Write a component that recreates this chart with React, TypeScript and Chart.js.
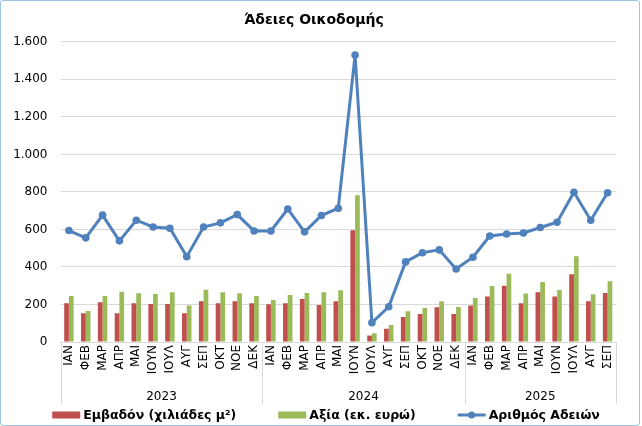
import React, { useEffect, useRef } from "react";
import { Chart, registerables } from "chart.js";

Chart.register(...registerables);

const months = ["ΙΑΝ", "ΦΕΒ", "ΜΑΡ", "ΑΠΡ", "ΜΑΙ", "ΙΟΥΝ", "ΙΟΥΛ", "ΑΥΓ", "ΣΕΠ", "ΟΚΤ", "ΝΟΕ", "ΔΕΚ"];
const years = ["2023", "2024", "2025"];
const monthsPerYear = [12, 12, 9];
const categories = [...months, ...months, ...months.slice(0, 9)];

const areaValues = [206, 153, 212, 153, 206, 203, 203, 153, 217, 206, 217, 206, 201, 206, 229, 197, 217, 596, 34, 71, 133, 149, 185, 149, 194, 242, 300, 206, 265, 242, 361, 217, 261];
const valueValues = [245, 165, 245, 268, 260, 256, 265, 194, 279, 265, 260, 245, 224, 251, 261, 265, 276, 782, 46, 91, 164, 181, 217, 187, 235, 299, 364, 258, 320, 277, 457, 254, 324];
const permitValues = [594, 555, 676, 539, 649, 613, 606, 455, 613, 635, 679, 592, 592, 709, 587, 674, 713, 1529, 103, 188, 427, 476, 491, 389, 452, 565, 576, 581, 610, 638, 798, 649, 795];

const seriesLabels = ["Εμβαδόν (χιλιάδες μ²)", "Αξία (εκ. ευρώ)", "Αριθμός Αδειών"];
const titleText = "Άδειες Οικοδομής";

const RED = "#C0504D";
const GREEN = "#9BBB59";
const BLUE = "#4F81BD";
const GRID = "#D9D9D9";
const FONT = "'DejaVu Sans', sans-serif";

const fmt = (v: number) =>
  v >= 1000 ? Math.floor(v / 1000) + "." + String(v % 1000).padStart(3, "0") : String(v);

const yearPlugin = {
  id: "yearRow",
  afterDraw(chart: any) {
    const x = chart.scales.x;
    const ctx = chart.ctx;
    const half = (x.getPixelForValue(1) - x.getPixelForValue(0)) / 2;
    ctx.save();
    ctx.strokeStyle = GRID;
    ctx.lineWidth = 1;
    ctx.fillStyle = "#000";
    ctx.font = "12px " + FONT;
    ctx.textAlign = "center";
    ctx.textBaseline = "middle";
    let start = 0;
    const bounds: number[] = [start];
    monthsPerYear.forEach((n) => {
      start += n;
      bounds.push(start);
    });
    bounds.forEach((b) => {
      const px = Math.round(x.getPixelForValue(b) - half) + 0.5;
      ctx.beginPath();
      ctx.moveTo(px, x.top);
      ctx.lineTo(px, x.bottom);
      ctx.stroke();
    });
    years.forEach((yr, i) => {
      const a = x.getPixelForValue(bounds[i]) - half;
      const b = x.getPixelForValue(bounds[i + 1]) - half;
      ctx.fillText(yr, (a + b) / 2, x.bottom - 7);
    });
    ctx.restore();
  },
};

const legendPlugin = {
  id: "customLegend",
  afterDraw(chart: any) {
    const ctx = chart.ctx;
    ctx.save();
    ctx.font = "bold 12.5px " + FONT;
    ctx.textBaseline = "middle";
    ctx.textAlign = "left";
    const sw = 28;
    const g1 = 3;
    const gap = 42;
    const items = chart.data.datasets.map((ds: any) => ({
      label: ds.label,
      w: ctx.measureText(ds.label).width,
      line: ds.type === "line",
      color: ds.type === "line" ? ds.borderColor : ds.backgroundColor,
    }));
    const total = items.reduce((s: number, it: any) => s + sw + g1 + it.w, 0) + gap * (items.length - 1);
    let xx = (chart.width - total) / 2 + 6;
    const y = chart.height - 10;
    items.forEach((it: any) => {
      ctx.fillStyle = it.color;
      ctx.strokeStyle = it.color;
      if (it.line) {
        ctx.lineWidth = 3;
        ctx.beginPath();
        ctx.moveTo(xx, y);
        ctx.lineTo(xx + sw, y);
        ctx.stroke();
        ctx.beginPath();
        ctx.arc(xx + sw / 2, y, 3.5, 0, Math.PI * 2);
        ctx.fill();
      } else {
        ctx.fillRect(xx, y - 3.5, sw, 7);
      }
      xx += sw + g1;
      ctx.fillStyle = "#000";
      ctx.fillText(it.label, xx, y + 1);
      xx += it.w + gap;
    });
    ctx.restore();
  },
};

export default function App() {
  const ref = useRef<HTMLCanvasElement | null>(null);
  useEffect(() => {
    if (!ref.current) return;
    const chart = new Chart(ref.current, {
      type: "bar",
      data: {
        labels: categories,
        datasets: [
          {
            type: "bar",
            label: seriesLabels[0],
            data: areaValues,
            backgroundColor: RED,
            categoryPercentage: 0.56,
            barPercentage: 1.0,
            order: 2,
          } as any,
          {
            type: "bar",
            label: seriesLabels[1],
            data: valueValues,
            backgroundColor: GREEN,
            categoryPercentage: 0.56,
            barPercentage: 1.0,
            order: 2,
          } as any,
          {
            type: "line",
            label: seriesLabels[2],
            data: permitValues,
            borderColor: BLUE,
            backgroundColor: BLUE,
            borderWidth: 3,
            pointRadius: 3.8,
            pointBackgroundColor: BLUE,
            pointBorderWidth: 0,
            tension: 0,
            order: 1,
          } as any,
        ],
      },
      options: {
        responsive: false,
        animation: false,
        layout: { padding: { left: 11, right: 23, top: 11, bottom: 21 } },
        plugins: {
          legend: { display: false },
          tooltip: { enabled: false },
          title: {
            display: true,
            text: titleText,
            color: "#000",
            font: { family: FONT, size: 14, weight: "bold" },
            padding: { top: 0, bottom: 13 },
          },
        },
        scales: {
          x: {
            grid: { display: false, drawTicks: false },
            border: { display: true, color: GRID, width: 1 },
            ticks: {
              color: "#000",
              font: { family: FONT, size: 12 },
              minRotation: 90,
              maxRotation: 90,
              autoSkip: false,
              padding: 3,
            },
            afterFit(scale: any) {
              scale.height = 62;
              scale.paddingLeft = 0;
              scale.paddingRight = 0;
            },
          },
          y: {
            min: 0,
            max: 1600,
            grid: { color: GRID, lineWidth: 1, drawTicks: false },
            border: { display: false },
            ticks: {
              stepSize: 200,
              color: "#000",
              font: { family: FONT, size: 12 },
              padding: 13,
              callback: (v: any) => fmt(Number(v)),
            },
            afterFit(scale: any) {
              scale.width = 48.5;
            },
          },
        },
      },
      plugins: [yearPlugin, legendPlugin],
    });
    return () => chart.destroy();
  }, []);

  return (
    <div
      style={{
        position: "fixed",
        left: 0,
        top: 0,
        width: 640,
        height: 426,
        boxSizing: "border-box",
        border: "1px solid #9DC3E6",
        borderRadius: 3,
        background: "#fff",
        overflow: "hidden",
      }}
    >
      <canvas ref={ref} width={638} height={424} style={{ display: "block" }} />
    </div>
  );
}
